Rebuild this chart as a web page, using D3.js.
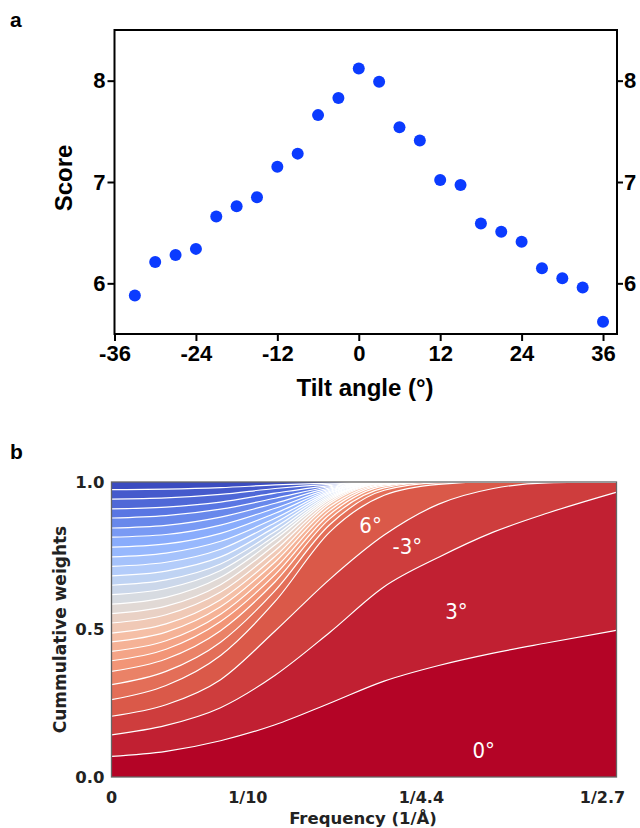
<!DOCTYPE html>
<html>
<head>
<meta charset="utf-8">
<script src="https://cdn.jsdelivr.net/npm/d3@7"></script>
<style>
  body { margin: 0; background: #fff; }
  svg { display: block; }
</style>
</head>
<body>
<div id="chart"></div>
<script>
// ---- panel a data ----
var tiltAngles = [-33, -30, -27, -24, -21, -18, -15, -12, -9, -6, -3, 0, 3, 6, 9, 12, 15, 18, 21, 24, 27, 30, 33, 36];
var scores = [5.88, 6.21, 6.28, 6.34, 6.66, 6.76, 6.85, 7.15, 7.28, 7.66, 7.83, 8.12, 7.99, 7.54, 7.41, 7.02, 6.97, 6.59, 6.51, 6.41, 6.15, 6.05, 5.96, 5.62];
var xTicksA = [-36, -24, -12, 0, 12, 24, 36];
var yTicksA = [6, 7, 8];

// ---- panel b data ----
// frequency columns (1/A) at which the cumulative weight boundaries were read
var freqs = [0, 0.04, 0.08, 0.12, 0.16, 0.20, 0.24, 0.28, 0.32, 0.37];
// cumulative weights, one row per white boundary line (bottom to top)
var cumLines = [
    [0.070, 0.087, 0.123, 0.177, 0.250, 0.325, 0.378, 0.420, 0.455, 0.497],
    [0.143, 0.175, 0.235, 0.345, 0.490, 0.645, 0.745, 0.830, 0.895, 0.965],
    [0.206, 0.245, 0.330, 0.495, 0.670, 0.820, 0.925, 0.978, 0.997, 1],
    [0.262, 0.310, 0.412, 0.595, 0.830, 0.955, 0.992, 1, 1, 1],
    [0.313, 0.358, 0.457, 0.632, 0.855, 0.972, 0.997, 1, 1, 1],
    [0.358, 0.400, 0.496, 0.662, 0.875, 0.980, 1, 1, 1, 1],
    [0.394, 0.433, 0.527, 0.686, 0.890, 0.986, 1, 1, 1, 1],
    [0.426, 0.462, 0.552, 0.708, 0.903, 0.990, 1, 1, 1, 1],
    [0.458, 0.491, 0.577, 0.729, 0.915, 0.993, 1, 1, 1, 1],
    [0.488, 0.519, 0.601, 0.748, 0.926, 0.995, 1, 1, 1, 1],
    [0.522, 0.550, 0.627, 0.768, 0.933, 0.996, 1, 1, 1, 1],
    [0.554, 0.579, 0.652, 0.787, 0.940, 0.998, 1, 1, 1, 1],
    [0.586, 0.609, 0.677, 0.805, 0.945, 0.999, 1, 1, 1, 1],
    [0.618, 0.639, 0.700, 0.818, 0.950, 0.999, 1, 1, 1, 1],
    [0.650, 0.668, 0.722, 0.832, 0.955, 1, 1, 1, 1, 1],
    [0.682, 0.698, 0.746, 0.847, 0.960, 1, 1, 1, 1, 1],
    [0.714, 0.728, 0.772, 0.862, 0.964, 1, 1, 1, 1, 1],
    [0.746, 0.759, 0.799, 0.877, 0.968, 1, 1, 1, 1, 1],
    [0.779, 0.790, 0.826, 0.894, 0.972, 1, 1, 1, 1, 1],
    [0.813, 0.822, 0.854, 0.911, 0.976, 1, 1, 1, 1, 1],
    [0.844, 0.853, 0.881, 0.928, 0.980, 1, 1, 1, 1, 1],
    [0.878, 0.886, 0.908, 0.945, 0.984, 1, 1, 1, 1, 1],
    [0.909, 0.915, 0.932, 0.962, 0.988, 1, 1, 1, 1, 1],
    [0.942, 0.946, 0.958, 0.978, 0.992, 1, 1, 1, 1, 1],
    [0.974, 0.976, 0.981, 0.990, 0.996, 1, 1, 1, 1, 1]
];
var xTickValsB = [0, 1 / 10, 1 / 4.4, 1 / 2.7];
var xTickTextB = ["0", "1/10", "1/4.4", "1/2.7"];
var yTickValsB = [0, 0.5, 1];
var layerLabels = ["0°", "3°", "-3°", "6°"];
var layerLabelPos = [[0.273, 0.092], [0.253, 0.563], [0.217, 0.783], [0.190, 0.854]];

// coolwarm colour map (matplotlib)
var coolwarm = d3.piecewise(d3.interpolateRgb, ["#3b4cc0", "#5a78e4", "#8db0fe", "#b8d0f9", "#dddddd", "#f5c4ac", "#f49a7b", "#dc5d4a", "#b40426"]);

var W = 640, H = 828;
var svg = d3.select("#chart").append("svg").attr("width", W).attr("height", H);

// ================= panel a =================
var A = { left: 114.5, right: 617, top: 30, bottom: 334 };
var xA = d3.scaleLinear().domain([-36, 38.06]).range([A.left, A.right]);
var yA = d3.scaleLinear().domain([5.5, 8.5]).range([A.bottom, A.top]);
var fontA = "'Liberation Sans', Arial, sans-serif";
var plain = function(d) { return String(d); };

var styleAxisA = function(g) {
    g.select(".domain").remove();
    g.selectAll("line").attr("stroke", "#000").attr("stroke-width", 2);
    g.selectAll("text").attr("font-family", fontA).attr("font-weight", "bold").attr("font-size", 22).attr("fill", "#000");
};

var ga = svg.append("g");

ga.append("g")
    .attr("transform", "translate(0," + A.bottom + ")")
    .call(d3.axisBottom(xA).tickValues(xTicksA).tickSize(7).tickPadding(4).tickFormat(plain))
    .call(styleAxisA);

ga.append("g")
    .attr("transform", "translate(" + A.left + ",0)")
    .call(d3.axisLeft(yA).tickValues(yTicksA).tickSize(7).tickPadding(2).tickFormat(plain))
    .call(styleAxisA);

ga.append("g")
    .attr("transform", "translate(" + A.right + ",0)")
    .call(d3.axisRight(yA).tickValues(yTicksA).tickSize(6).tickPadding(1).tickFormat(plain))
    .call(styleAxisA);

ga.append("rect")
    .attr("x", A.left).attr("y", A.top)
    .attr("width", A.right - A.left).attr("height", A.bottom - A.top)
    .attr("fill", "none").attr("stroke", "#000").attr("stroke-width", 2);

ga.selectAll(".dot")
    .data(tiltAngles)
    .enter()
    .append("circle")
    .attr("class", "dot")
    .attr("cx", function(d) { return xA(d); })
    .attr("cy", function(d, i) { return yA(scores[i]); })
    .attr("r", 6)
    .attr("fill", "#0b3bff");

ga.append("text")
    .attr("transform", "translate(72," + ((A.top + A.bottom) / 2 - 4) + ") rotate(-90)")
    .attr("text-anchor", "middle")
    .attr("font-family", fontA).attr("font-weight", "bold").attr("font-size", 24)
    .text("Score");

ga.append("text")
    .attr("x", 365).attr("y", 396)
    .attr("text-anchor", "middle")
    .attr("font-family", fontA).attr("font-weight", "bold").attr("font-size", 24)
    .text("Tilt angle (°)");

svg.append("text").attr("x", 10).attr("y", 27)
    .attr("font-family", fontA).attr("font-weight", "bold").attr("font-size", 21)
    .text("a");

// ================= panel b =================
var B = { left: 111.5, right: 616.5, top: 482, bottom: 777 };
var xB = d3.scaleLinear().domain([0, 0.3704]).range([B.left, B.right]);
var yB = d3.scaleLinear().domain([0, 1]).range([B.bottom, B.top]);
var fontB = "'DejaVu Sans', sans-serif";

var gb = svg.append("g");
svg.append("defs").append("clipPath").attr("id", "clipB")
    .append("rect").attr("x", B.left).attr("y", B.top)
    .attr("width", B.right - B.left).attr("height", B.bottom - B.top);

var nLayers = cumLines.length + 1;
var layerColor = function(i) { return coolwarm(1 - i / (nLayers - 1)); };

var plot = gb.append("g").attr("clip-path", "url(#clipB)");

// layer i covers the area under its upper boundary; paint from the top down
var area = d3.area()
    .x(function(d, j) { return xB(freqs[j]); })
    .y0(yB(0))
    .y1(function(d) { return yB(d); })
    .curve(d3.curveMonotoneX);

var uppers = cumLines.concat([freqs.map(function() { return 1; })]);
for (var i = nLayers - 1; i >= 0; i--) {
    plot.append("path")
        .datum(uppers[i])
        .attr("d", area)
        .attr("fill", layerColor(i));
}

var line = d3.line()
    .x(function(d, j) { return xB(freqs[j]); })
    .y(function(d) { return yB(d); })
    .curve(d3.curveMonotoneX);

plot.selectAll(".bline")
    .data(cumLines)
    .enter()
    .append("path")
    .attr("class", "bline")
    .attr("d", line)
    .attr("fill", "none")
    .attr("stroke", "#fff")
    .attr("stroke-width", 1.2);

gb.selectAll(".llab")
    .data(layerLabels)
    .enter()
    .append("text")
    .attr("class", "llab")
    .attr("x", function(d, i) { return xB(layerLabelPos[i][0]); })
    .attr("y", function(d, i) { return yB(layerLabelPos[i][1]); })
    .attr("dy", "0.35em")
    .attr("text-anchor", "middle")
    .attr("font-family", "'DejaVu Sans Condensed', 'DejaVu Sans', sans-serif")
    .attr("font-size", 22)
    .attr("fill", "#fff")
    .text(function(d) { return d; });

gb.append("rect")
    .attr("x", B.left).attr("y", B.top)
    .attr("width", B.right - B.left).attr("height", B.bottom - B.top)
    .attr("fill", "none").attr("stroke", "#666").attr("stroke-width", 1.3);

gb.selectAll(".xtb")
    .data(xTickValsB)
    .enter()
    .append("text")
    .attr("class", "xtb")
    .attr("x", function(d) { return xB(d); })
    .attr("dx", function(d, i) { return i === xTickValsB.length - 1 ? -14 : 0; })
    .attr("y", 803)
    .attr("text-anchor", "middle")
    .attr("font-family", fontB).attr("font-weight", "bold").attr("font-size", 16)
    .attr("fill", "#222")
    .text(function(d, i) { return xTickTextB[i]; });

gb.selectAll(".ytb")
    .data(yTickValsB)
    .enter()
    .append("text")
    .attr("class", "ytb")
    .attr("x", B.left - 7)
    .attr("y", function(d) { return yB(d); })
    .attr("dy", "0.36em")
    .attr("text-anchor", "end")
    .attr("font-family", fontB).attr("font-weight", "bold").attr("font-size", 16.5)
    .attr("fill", "#222")
    .text(function(d) { return d3.format(".1f")(d); });

gb.append("text")
    .attr("transform", "translate(66," + ((B.top + B.bottom) / 2) + ") rotate(-90)")
    .attr("text-anchor", "middle")
    .attr("font-family", fontB).attr("font-weight", "bold").attr("font-size", 17)
    .attr("fill", "#222")
    .text("Cummulative weights");

gb.append("text")
    .attr("x", 363).attr("y", 824)
    .attr("text-anchor", "middle")
    .attr("font-family", fontB).attr("font-weight", "bold").attr("font-size", 16.5)
    .attr("fill", "#222")
    .text("Frequency (1/Å)");

svg.append("text").attr("x", 10).attr("y", 459)
    .attr("font-family", fontA).attr("font-weight", "bold").attr("font-size", 21)
    .text("b");
</script>
</body>
</html>
